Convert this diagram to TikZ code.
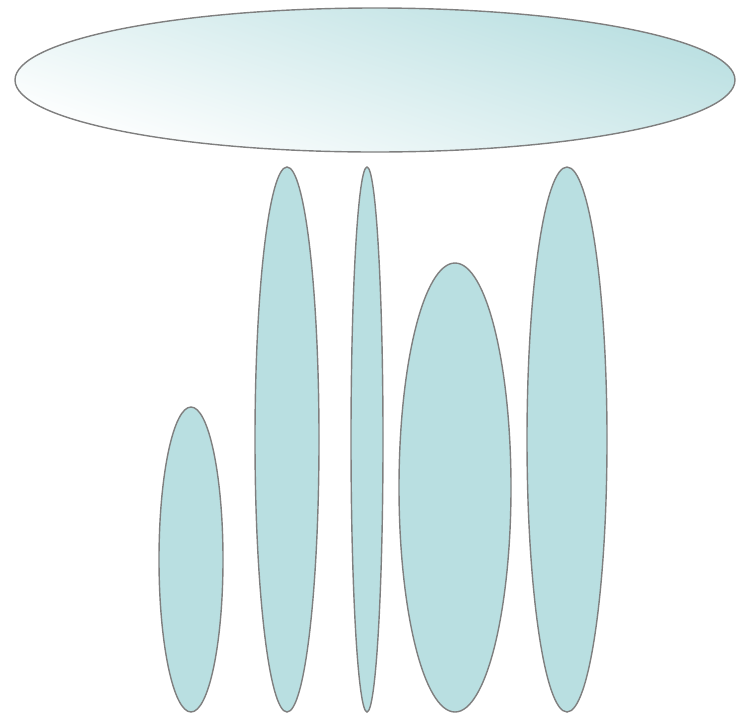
\documentclass[tikz,border=0pt]{standalone}
\usetikzlibrary{shapes.geometric}

\definecolor{lagoon}{HTML}{B9DFE1}
\definecolor{rimGray}{HTML}{7F7F7F}

\begin{document}
\begin{tikzpicture}[x=1pt,y=-1pt]

% --- Stijldefinities ---
\tikzset{
    blob/.style={
        ellipse,
        inner sep=0pt,
        draw=rimGray,
        line width=1.4pt
    },
    pillar/.style={
        blob,
        fill=lagoon
    },
    lid/.style={
        blob,
        top color=lagoon,
        bottom color=white,
        shading angle=-18
    }
}

\useasboundingbox (0,0) rectangle (738,713);

% =========================================================
% Bovenste ellips
% =========================================================

\node[lid, minimum width=720pt, minimum height=144pt] (lid) at (375,80) {};

% =========================================================
% Staande ellipsen
% =========================================================

\node[pillar, minimum width=64pt, minimum height=305pt] (pillarA) at (191,559.5) {};
\node[pillar, minimum width=64pt, minimum height=545pt] (pillarB) at (287,439.5) {};
\node[pillar, minimum width=32pt, minimum height=545pt] (pillarC) at (367,439.5) {};
\node[pillar, minimum width=112pt, minimum height=449pt] (pillarD) at (455,487.5) {};
\node[pillar, minimum width=80pt, minimum height=545pt] (pillarE) at (567,439.5) {};

\end{tikzpicture}
\end{document}
